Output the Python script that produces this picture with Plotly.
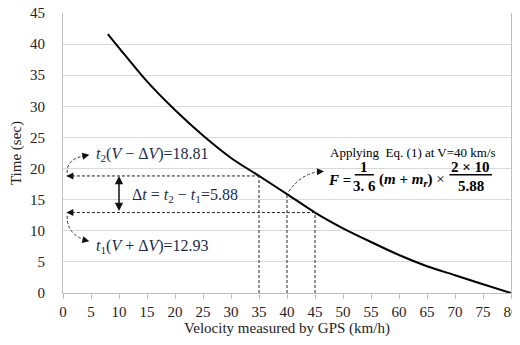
import plotly.graph_objects as go

# ---- data ----
velocity = [8, 10, 15, 20, 25, 30, 35, 40, 45, 50, 55, 60, 65, 70, 75, 80]
time_sec = [41.6, 39.4, 34.0, 29.4, 25.3, 21.7, 18.81, 15.9, 12.93, 10.4, 8.2, 6.1, 4.3, 2.85, 1.4, 0.0]

v_low, v_mid, v_high = 35, 40, 45
t2, t_mid, t1 = 18.81, 15.9, 12.93
delta_t = 5.88

x_ticks = list(range(0, 81, 5))
y_ticks = list(range(0, 46, 5))

SERIF = "Liberation Serif"
MATH = "#1c2b4a"
DASH = "3px,2px"

fig = go.Figure()
fig.add_trace(go.Scatter(x=velocity, y=time_sec, mode="lines",
                         line=dict(color="black", width=2, shape="spline", smoothing=0.8),
                         hoverinfo="skip", showlegend=False))

shapes = []
def dline(x0, y0, x1, y1):
    shapes.append(dict(type="line", xref="x", yref="y", x0=x0, y0=y0, x1=x1, y1=y1,
                       line=dict(color="#222", width=1, dash=DASH)))

# horizontal dashed guides
dline(0.7, t2, v_low, t2)
dline(0.7, t1, v_high, t1)
# vertical dashed guides
dline(v_low, 0, v_low, t2)
dline(v_mid, 0, v_mid, t_mid)
dline(v_high, 0, v_high, t1)

# curved dashed arrows
def cpath(p):
    shapes.append(dict(type="path", xref="x", yref="y", path=p,
                       line=dict(color="#333", width=1, dash=DASH)))
cpath("M 0.75,19.3 Q 0.6,21.7 4.3,22.1")
cpath("M 0.75,12.4 Q 0.6,9.4 4.3,8.4")
cpath("M 40.3,16.3 Q 42.6,19.3 46.0,19.5")

# fraction bars
shapes.append(dict(type="line", xref="x", yref="y", x0=52.1, x1=55.5, y0=19.0, y1=19.0,
                   line=dict(color="black", width=1.5)))
shapes.append(dict(type="line", xref="x", yref="y", x0=69.0, x1=76.6, y0=19.0, y1=19.0,
                   line=dict(color="black", width=1.5)))

ann = []
def arrowhead(x, y, ax, ay, side="end", width=1, size=1.4, head=2):
    ann.append(dict(x=x, y=y, ax=ax, ay=ay, xref="x", yref="y", axref="x", ayref="y",
                    text="", showarrow=True, arrowhead=head, arrowsize=size,
                    arrowwidth=width, arrowcolor="#111", arrowside=side, startarrowhead=head,
                    startarrowsize=size))

arrowhead(0.6, t2, 1.4, t2)
arrowhead(0.6, t1, 1.4, t1)
arrowhead(4.7, 22.2, 3.6, 22.0)
arrowhead(4.7, 8.3, 3.6, 8.55)
arrowhead(46.6, 19.55, 45.5, 19.5)
# double arrow for delta t
arrowhead(10, t2, 10, t1, side="end+start", width=1.5, size=1.1)

def text(x, y, s, size=16, color=MATH, bg=None, xanchor="center"):
    d = dict(x=x, y=y, xref="x", yref="y", text=s, showarrow=False, xanchor=xanchor,
             font=dict(family=SERIF, size=size, color=color))
    if bg:
        d["bgcolor"] = bg
    ann.append(d)

text(5.5, 22.3, f"<i>t</i><sub>2</sub>(<i>V</i> − Δ<i>V</i>)={t2}", xanchor="left")
text(11.9, 15.75, f"Δ<i>t</i> = <i>t</i><sub>2</sub> − <i>t</i><sub>1</sub>={delta_t}", xanchor="left", bg="white")
text(5.5, 7.4, f"<i>t</i><sub>1</sub>(<i>V</i> + Δ<i>V</i>)={t1}", xanchor="left")

text(62.5, 22.55, f"Applying  Eq. (1) at V={v_mid} km/s", size=13, color="black")
text(49.4, 18.2, "<b><i>F</i> =</b>", size=15, color="black")
text(53.8, 20.25, "<b>1</b>", size=15, color="black")
text(53.8, 17.2, "<b>3. 6</b>", size=15, color="black")
text(62.3, 18.2, "<b>(<i>m</i> + <i>m</i><sub><i>r</i></sub>) </b>×", size=15, color="black")
text(72.8, 20.25, "<b>2 × 10</b>", size=15, color="black")
text(72.8, 17.2, f"<b>{delta_t}</b>", size=15, color="black")

# page body has an 8px margin, so the figure is sized/offset to fit the 520x345 window
fig.update_layout(
    width=512, height=329,
    margin=dict(l=55, r=9, t=5, b=44),
    paper_bgcolor="white", plot_bgcolor="white",
    shapes=shapes, annotations=ann,
    font=dict(family=SERIF, size=15, color="#222"),
    xaxis=dict(range=[0, 80], tickvals=x_ticks, showgrid=False, showline=True,
               linecolor="#bfbfbf", linewidth=1, ticks="outside", ticklen=5,
               tickcolor="#bfbfbf", zeroline=False, automargin=False,
               ticklabeloverflow="allow",
               tickfont=dict(family=SERIF, size=15, color="#222"),
               title=dict(text="Velocity measured by GPS (km/h)", standoff=2,
                          font=dict(family=SERIF, size=15, color="#222"))),
    yaxis=dict(range=[0, 45], tickvals=y_ticks, showgrid=True, gridcolor="#d9d9d9",
               gridwidth=1, showline=True, mirror=True, linecolor="#bfbfbf", linewidth=1,
               ticks="", zeroline=False, ticklabelstandoff=14, automargin=False,
               ticklabeloverflow="allow",
               tickfont=dict(family=SERIF, size=15, color="#222"),
               title=dict(text="Time (sec)", standoff=4,
                          font=dict(family=SERIF, size=15, color="#222"))),
)

fig.write_html("out.html")
